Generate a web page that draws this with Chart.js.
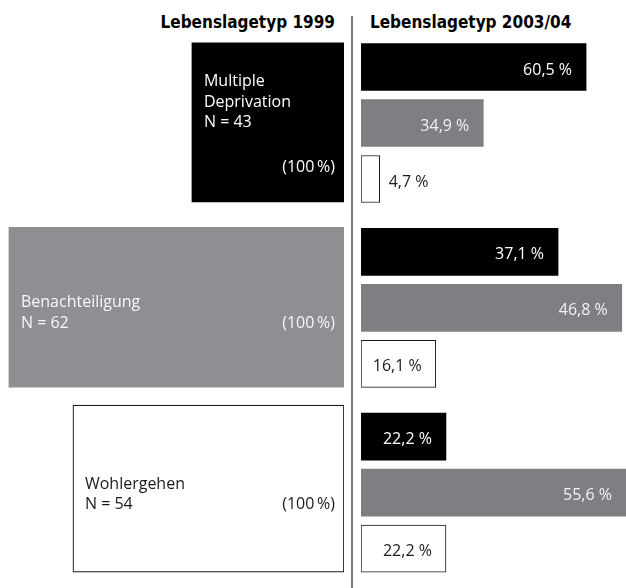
<!DOCTYPE html>
<html lang="de">
<head>
<meta charset="utf-8">
<title>Lebenslagetyp 1999 und 2003/04</title>
<script src="https://cdn.jsdelivr.net/npm/chart.js@4.4.1/dist/chart.umd.min.js"></script>
<style>
  html, body { margin: 0; padding: 0; background: #fff; }
  #wrap { position: relative; width: 626px; height: 588px; overflow: hidden; }
  .panel { position: absolute; top: 0; height: 588px; }
  #linksPanel { left: 0; width: 352px; }
  #rechtsPanel { left: 352px; width: 274px; }
  .titel {
    position: absolute; top: 12px; line-height: 20px; color: #000; white-space: nowrap;
    font-family: "DejaVu Sans Condensed", "DejaVu Sans", sans-serif;
    font-weight: bold; font-size: 17px; font-stretch: condensed;
  }
  #titelLinks { left: 0; width: 335px; text-align: right; }
  #titelRechts { left: 370px; }
  #trenner { position: absolute; left: 351px; top: 16px; width: 2px; height: 572px; background: #777; }
</style>
</head>
<body>
<div id="wrap">
  <div class="titel" id="titelLinks">Lebenslagetyp 1999</div>
  <div class="titel" id="titelRechts">Lebenslagetyp 2003/04</div>
  <div class="panel" id="linksPanel"><canvas id="links1999"></canvas></div>
  <div class="panel" id="rechtsPanel"><canvas id="rechts2003"></canvas></div>
  <div id="trenner"></div>
</div>
<script>
// Lebenslagetypen (Ausgangstyp 1999)
const typen = ['Multiple Deprivation', 'Benachteiligung', 'Wohlergehen'];
const n1999 = [43, 62, 54];
const anteil1999 = [100, 100, 100];
// Breite der Kästen links, wie abgebildet (100 = ganze linke Seite)
const boxBreite1999 = [44.2, 97.4, 78.8];

// Anteile 2003/04 je Ausgangstyp (MD, BN, WG)
const anteilMD2003 = [60.5, 37.1, 22.2];
const anteilBN2003 = [34.9, 46.8, 55.6];
const anteilWG2003 = [4.7, 16.1, 22.2];
// Balkenlängen 2003/04, wie abgebildet
const laengeMD2003 = [26.5, 23.2, 10.0];
const laengeBN2003 = [14.4, 30.7, 31.5];
const laengeWG2003 = [2.2, 8.8, 10.0];

const anteile2003 = [anteilMD2003, anteilBN2003, anteilWG2003];
const laengen2003 = [laengeMD2003, laengeBN2003, laengeWG2003];

// Layout
const GRUPPEN_ABSTAND = 3.3;   // Zeilen von Gruppe zu Gruppe
const ZEILE_PX = 56;
const ERSTE_MITTE_PX = 67;
const HOEHE_PX = 588;

const boxFarben = ['#000000', '#8d8f93', '#ffffff'];
const boxTextFarben = ['#ffffff', '#f7f7f7', '#1a1a1a'];
const boxHoehe = [159, 160, 167];
const boxVersatz = [-0.01, -0.01, -0.07];

const balkenFarben = ['#000000', '#7e7f83', '#ffffff'];
const balkenTextFarben = ['#ffffff', '#f2f2f2', '#1a1a1a'];

const yAchse = () => ({
  type: 'linear', display: false, reverse: true, offset: false,
  min: -ERSTE_MITTE_PX / ZEILE_PX,
  max: (HOEHE_PX - ERSTE_MITTE_PX) / ZEILE_PX
});

function prozentText(v) {
  return v.toFixed(1).replace('.', ',') + ' %';
}

// Text in Zeilen umbrechen, wenn er nicht in den Kasten passt
function umbrechen(ctx, text, platz) {
  const woerter = text.split(' ');
  const zeilen = [];
  let zeile = '';
  woerter.forEach(w => {
    const test = zeile ? zeile + ' ' + w : w;
    if (zeile && ctx.measureText(test).width > platz) {
      zeilen.push(zeile);
      zeile = w;
    } else {
      zeile = test;
    }
  });
  if (zeile) zeilen.push(zeile);
  return zeilen;
}

const boxBeschriftung = {
  id: 'boxBeschriftung',
  afterDatasetsDraw(chart) {
    const ctx = chart.ctx;
    ctx.save();
    ctx.font = '500 16px "Open Sans", sans-serif';
    ctx.textBaseline = 'middle';
    chart.data.datasets.forEach((ds, g) => {
      const el = chart.getDatasetMeta(g).data[0];
      const links = Math.min(el.x, el.base);
      const rechts = Math.max(el.x, el.base);
      const mitte = el.y + 1;
      const zeilen = umbrechen(ctx, typen[g], rechts - links - 24);
      const eigeneZeile = zeilen.length > 1;
      zeilen.push('N = ' + n1999[g]);
      let nY, pY;
      if (eigeneZeile) { nY = mitte - 1; pY = mitte + 44; }
      else { nY = mitte + 15; pY = nY; }
      ctx.fillStyle = boxTextFarben[g];
      ctx.textAlign = 'left';
      zeilen.forEach((z, k) => {
        ctx.fillText(z, links + 12, nY - (zeilen.length - 1 - k) * 20.5);
      });
      ctx.textAlign = 'right';
      ctx.fillText('(' + anteil1999[g] + '\u2009%)', rechts - 9, pY);
    });
    ctx.restore();
  }
};

const balkenBeschriftung = {
  id: 'balkenBeschriftung',
  afterDatasetsDraw(chart) {
    const ctx = chart.ctx;
    ctx.save();
    ctx.font = '16px "Open Sans", sans-serif';
    ctx.textBaseline = 'middle';
    chart.data.datasets.forEach((ds, r) => {
      chart.getDatasetMeta(r).data.forEach((el, g) => {
        const text = prozentText(anteile2003[r][g]);
        const tw = ctx.measureText(text).width;
        const ende = Math.min(el.x, chart.chartArea.right);
        const innen = ende - el.base >= tw + 22;
        ctx.fillStyle = innen ? balkenTextFarben[r] : '#1a1a1a';
        ctx.textAlign = innen ? 'right' : 'left';
        ctx.fillText(text, innen ? ende - 14 : ende + 9, el.y + 3);
      });
    });
    ctx.restore();
  }
};

const gemeinsam = {
  indexAxis: 'y',
  responsive: true,
  maintainAspectRatio: false,
  animation: false,
  events: [],
  plugins: { legend: { display: false }, tooltip: { enabled: false } }
};

new Chart(document.getElementById('links1999'), {
  type: 'bar',
  data: {
    datasets: typen.map((typ, g) => ({
      label: typ + ' 1999',
      data: [{ x: boxBreite1999[g], y: g * GRUPPEN_ABSTAND + 1 + boxVersatz[g] }],
      backgroundColor: boxFarben[g],
      borderColor: '#1a1a1a',
      borderWidth: g === 2 ? 1.2 : 0,
      borderSkipped: false,
      barThickness: boxHoehe[g],
      grouped: false
    }))
  },
  options: {
    ...gemeinsam,
    layout: { padding: { right: 8 } },
    scales: {
      x: { type: 'linear', display: false, reverse: true, min: 0, max: 100 },
      y: yAchse()
    }
  },
  plugins: [boxBeschriftung]
});

new Chart(document.getElementById('rechts2003'), {
  type: 'bar',
  data: {
    datasets: typen.map((typ, r) => ({
      label: typ + ' 2003/04',
      data: laengen2003[r].map((v, g) => ({ x: v, y: g * GRUPPEN_ABSTAND + r })),
      backgroundColor: balkenFarben[r],
      borderColor: '#1a1a1a',
      borderWidth: r === 2 ? 1 : 0,
      borderSkipped: false,
      barThickness: 47,
      grouped: false
    }))
  },
  options: {
    ...gemeinsam,
    layout: { padding: { left: 9 } },
    scales: {
      x: { type: 'linear', display: false, min: 0, max: 31.2 },
      y: yAchse()
    }
  },
  plugins: [balkenBeschriftung]
});
</script>
</body>
</html>
